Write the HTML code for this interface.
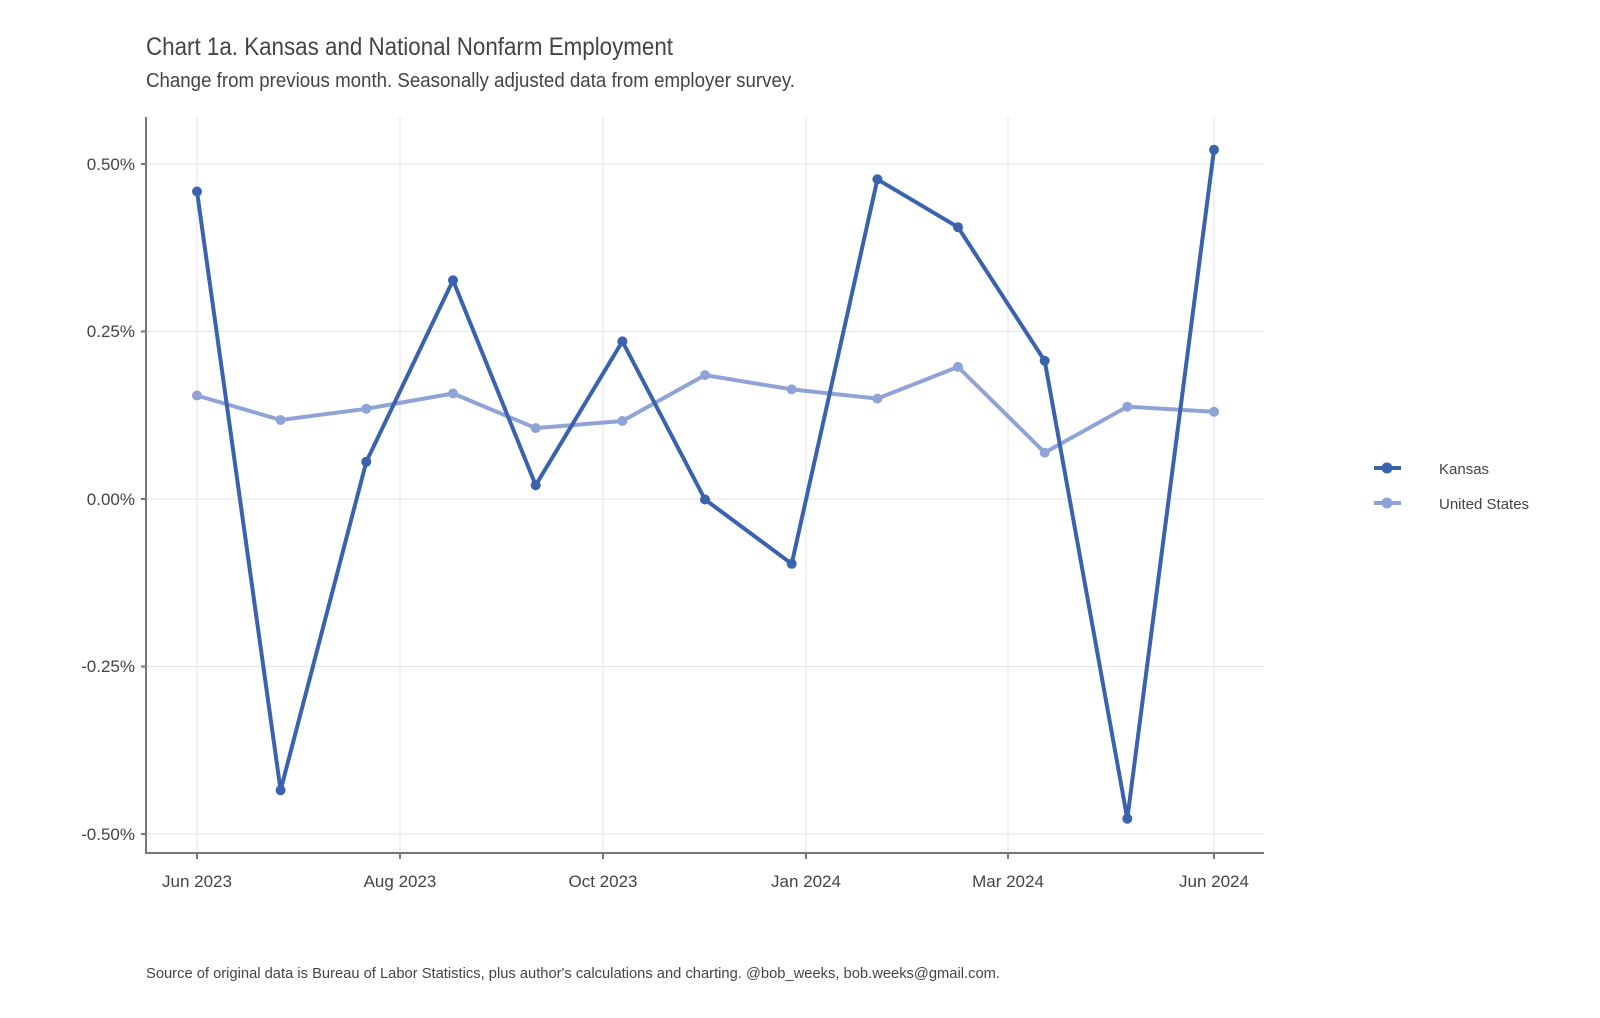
<!DOCTYPE html>
<html><head><meta charset="utf-8"><style>body{margin:0;background:#fff}svg{display:block}</style></head>
<body>
<svg width="1600" height="1018" xmlns="http://www.w3.org/2000/svg" font-family="Liberation Sans Narrow, Liberation Sans, sans-serif">
<rect width="1600" height="1018" fill="#fff"/>
<text x="146" y="55" font-size="25" fill="#444" textLength="527" lengthAdjust="spacingAndGlyphs">Chart 1a. Kansas and National Nonfarm Employment</text>
<text x="146" y="87" font-size="20" fill="#444" textLength="649" lengthAdjust="spacingAndGlyphs">Change from previous month. Seasonally adjusted data from employer survey.</text>
<g stroke="#e3e3e3" stroke-width="1">
<line x1="146" x2="1264" y1="164" y2="164"/><line x1="146" x2="1264" y1="331.5" y2="331.5"/><line x1="146" x2="1264" y1="499" y2="499"/><line x1="146" x2="1264" y1="666.5" y2="666.5"/><line x1="146" x2="1264" y1="834" y2="834"/>
<line x1="197" x2="197" y1="117" y2="853"/><line x1="400" x2="400" y1="117" y2="853"/><line x1="603" x2="603" y1="117" y2="853"/><line x1="806" x2="806" y1="117" y2="853"/><line x1="1008" x2="1008" y1="117" y2="853"/><line x1="1214" x2="1214" y1="117" y2="853"/>
</g>
<g stroke="#777" stroke-width="2" fill="none">
<path d="M146 117V853H1264"/>
<path d="M141 164h5M141 331.5h5M141 499h5M141 666.5h5M141 834h5M197 853v6M400 853v6M603 853v6M806 853v6M1008 853v6M1214 853v6"/>
</g>
<g font-size="17" fill="#444" text-anchor="end">
<text x="135" y="170">0.50%</text><text x="135" y="337">0.25%</text><text x="135" y="505">0.00%</text><text x="135" y="672">-0.25%</text><text x="135" y="840">-0.50%</text>
</g>
<g font-size="17" fill="#444" text-anchor="middle">
<text x="197" y="887">Jun 2023</text><text x="400" y="887">Aug 2023</text><text x="603" y="887">Oct 2023</text><text x="806" y="887">Jan 2024</text><text x="1008" y="887">Mar 2024</text><text x="1214" y="887">Jun 2024</text>
</g>
<g fill="#8fa3d6">
<polyline fill="none" stroke="#8fa3d6" stroke-width="4" stroke-linejoin="round" points="197,395.5 280.6,420 366.3,408.8 453,393.5 535.7,428.1 622.4,421 705,375.1 791.7,389.4 877.4,398.6 958,366.9 1044.7,452.6 1127.3,406.7 1214,411.8"/>
<circle cx="197" cy="395.5" r="5"/><circle cx="280.6" cy="420" r="5"/><circle cx="366.3" cy="408.8" r="5"/><circle cx="453" cy="393.5" r="5"/><circle cx="535.7" cy="428.1" r="5"/><circle cx="622.4" cy="421" r="5"/><circle cx="705" cy="375.1" r="5"/><circle cx="791.7" cy="389.4" r="5"/><circle cx="877.4" cy="398.6" r="5"/><circle cx="958" cy="366.9" r="5"/><circle cx="1044.7" cy="452.6" r="5"/><circle cx="1127.3" cy="406.7" r="5"/><circle cx="1214" cy="411.8" r="5"/>
</g>
<g fill="#3a62ad">
<polyline fill="none" stroke="#3a62ad" stroke-width="4" stroke-linejoin="round" points="197,191.5 280.6,790.2 366.3,461.8 453,280.3 535.7,485.2 622.4,341.4 705,499.5 791.7,563.8 877.4,179.3 958,227.2 1044.7,360.8 1127.3,818.7 1214,149.7"/>
<circle cx="197" cy="191.5" r="5"/><circle cx="280.6" cy="790.2" r="5"/><circle cx="366.3" cy="461.8" r="5"/><circle cx="453" cy="280.3" r="5"/><circle cx="535.7" cy="485.2" r="5"/><circle cx="622.4" cy="341.4" r="5"/><circle cx="705" cy="499.5" r="5"/><circle cx="791.7" cy="563.8" r="5"/><circle cx="877.4" cy="179.3" r="5"/><circle cx="958" cy="227.2" r="5"/><circle cx="1044.7" cy="360.8" r="5"/><circle cx="1127.3" cy="818.7" r="5"/><circle cx="1214" cy="149.7" r="5"/>
</g>
<line x1="1374" x2="1401" y1="468" y2="468" stroke="#3a62ad" stroke-width="4"/><circle cx="1387" cy="468" r="5.5" fill="#3a62ad"/>
<line x1="1374" x2="1401" y1="503" y2="503" stroke="#8fa3d6" stroke-width="4"/><circle cx="1387" cy="503" r="5.5" fill="#8fa3d6"/>
<text x="1439" y="474" font-size="15" fill="#444">Kansas</text>
<text x="1439" y="509" font-size="15" fill="#444">United States</text>
<text x="146" y="978" font-size="15" fill="#444" textLength="854" lengthAdjust="spacingAndGlyphs">Source of original data is Bureau of Labor Statistics, plus author's calculations and charting. @bob_weeks, bob.weeks@gmail.com.</text>
</svg>
</body></html>
